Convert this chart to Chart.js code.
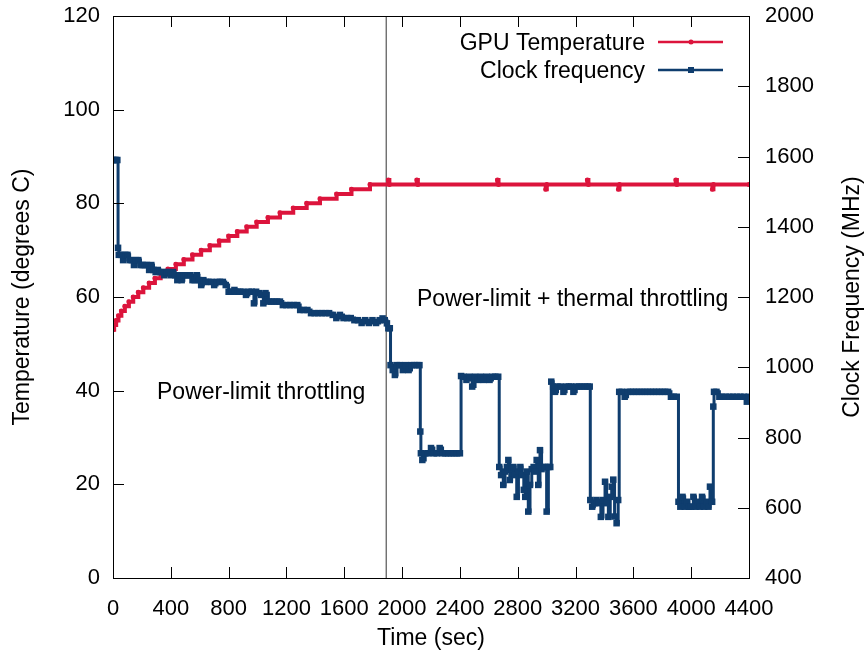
<!DOCTYPE html>
<html>
<head>
<meta charset="utf-8">
<script src="https://cdn.jsdelivr.net/npm/chart.js@4.4.0/dist/chart.umd.min.js"></script>
<style>
  html, body { margin: 0; padding: 0; background: #fff; }
  #chart { display: block; }
</style>
</head>
<body>
<canvas id="chart" width="866" height="664"></canvas>
<script>
// Axis ranges / ticks
const timeTicks = [0, 4400, 400];
const tempTicks = [0, 120, 20];
const clockTicks = [400, 2000, 200];

// Moment where thermal throttling kicks in (sec)
const throttleStart = 1890;

// GPU temperature [sec, degrees C]
const tempReadings = [
  [0, 53], [8, 54], [22, 55], [38, 56], [58, 57], [82, 58], [110, 59], [140, 60],
  [175, 61], [210, 62], [250, 63], [290, 64], [330, 65], [380, 66], [435, 67],
  [490, 68], [550, 69], [610, 70], [670, 71], [735, 72], [800, 73], [860, 74],
  [925, 75], [994, 76], [1072, 77], [1155, 78], [1247, 79], [1340, 80], [1432, 81],
  [1547, 82], [1650, 83], [1778, 84],
  [1905, 85], [1912, 84], [2102, 85], [2109, 84], [2660, 85], [2667, 84],
  [2994, 83], [3001, 84], [3282, 85], [3289, 84], [3497, 83], [3504, 84],
  [3894, 85], [3901, 84], [4147, 83], [4154, 84], [4400, 84]
];

// Clock frequency [sec, MHz]
const clockReadings = [
  [0, 1590], [10, 1590], [20, 1590], [30, 1590],
  [35, 1340], [40, 1320], [55, 1320], [70, 1305], [85, 1320], [100, 1320], [115, 1305],
  [130, 1305], [145, 1291], [160, 1305], [175, 1305], [190, 1291], [205, 1291], [220, 1291],
  [235, 1291], [250, 1277], [265, 1291], [280, 1277], [295, 1271], [310, 1277], [325, 1271],
  [340, 1271], [355, 1262], [370, 1271], [385, 1271], [400, 1262], [415, 1271], [430, 1262],
  [445, 1248], [460, 1262], [475, 1248], [490, 1262], [505, 1262], [520, 1262], [535, 1262],
  [550, 1248], [565, 1248], [580, 1262], [595, 1248], [610, 1234], [625, 1248], [640, 1243],
  [660, 1243], [680, 1243], [700, 1234], [720, 1243], [740, 1243], [760, 1243], [780, 1234],
  [800, 1215], [820, 1215], [840, 1220], [860, 1215], [880, 1215], [900, 1215], [920, 1206],
  [940, 1215], [960, 1215], [975, 1182], [990, 1215], [1010, 1211], [1025, 1206], [1040, 1182],
  [1055, 1211], [1075, 1187], [1095, 1187], [1115, 1187], [1135, 1187], [1155, 1187],
  [1175, 1177], [1200, 1177], [1225, 1177], [1250, 1177], [1275, 1177], [1295, 1163],
  [1320, 1163], [1345, 1163], [1370, 1154], [1395, 1154], [1420, 1154], [1445, 1154],
  [1470, 1154], [1495, 1154], [1520, 1149], [1545, 1140], [1570, 1149], [1595, 1140],
  [1620, 1140], [1645, 1140], [1670, 1134], [1695, 1134], [1720, 1126], [1745, 1134],
  [1770, 1126], [1795, 1134], [1820, 1126], [1845, 1134], [1865, 1139], [1880, 1134],
  [1895, 1125], [1905, 1111], [1915, 1111],
  [1920, 1006], [1935, 992], [1950, 978], [1965, 1006], [1985, 1006], [2005, 992],
  [2025, 1006], [2045, 992], [2065, 1006], [2085, 1006], [2105, 1006], [2120, 1006],
  [2126, 817], [2130, 755], [2140, 736], [2160, 755], [2180, 755], [2200, 770], [2220, 755],
  [2240, 755], [2260, 770], [2280, 755], [2300, 755], [2320, 755], [2340, 755], [2360, 755],
  [2380, 755], [2400, 755],
  [2408, 975], [2425, 973], [2445, 964], [2465, 973], [2485, 945], [2505, 973], [2525, 964],
  [2545, 973], [2565, 964], [2585, 973], [2605, 964], [2625, 973], [2645, 973], [2665, 973],
  [2672, 716], [2685, 693], [2700, 665], [2712, 703], [2725, 716], [2735, 736], [2745, 679],
  [2758, 710], [2770, 716], [2782, 693], [2793, 631], [2805, 703], [2818, 716], [2830, 693],
  [2842, 651], [2852, 631], [2862, 703], [2873, 589], [2885, 665], [2897, 710], [2910, 716],
  [2920, 703], [2931, 736], [2942, 665], [2954, 764], [2965, 710], [2977, 716], [2990, 716],
  [3000, 589], [3012, 716], [3025, 716],
  [3032, 959], [3045, 945], [3058, 930], [3075, 945], [3095, 945], [3116, 930], [3135, 945],
  [3155, 945], [3170, 945], [3185, 930], [3205, 945], [3225, 945], [3245, 945], [3265, 945],
  [3285, 945], [3298, 945],
  [3302, 622], [3315, 603], [3330, 613], [3345, 622], [3360, 613], [3375, 574], [3390, 622],
  [3404, 674], [3415, 613], [3427, 574], [3440, 631], [3450, 660], [3461, 680], [3470, 575],
  [3484, 556], [3495, 622],
  [3502, 930], [3520, 930], [3540, 916], [3560, 930], [3580, 930], [3600, 930], [3620, 930],
  [3640, 930], [3660, 930], [3680, 930], [3700, 930], [3720, 930], [3740, 930], [3760, 930],
  [3780, 930], [3800, 930], [3820, 930], [3840, 930], [3860, 916], [3880, 916], [3900, 916],
  [3912, 617], [3925, 603], [3940, 631], [3955, 603], [3970, 617], [3985, 603], [4000, 603],
  [4015, 631], [4030, 603], [4045, 617], [4060, 603], [4075, 631], [4090, 603], [4105, 617],
  [4120, 603], [4130, 660], [4145, 617],
  [4153, 888], [4158, 930], [4175, 930], [4195, 916], [4215, 916], [4240, 916], [4265, 916],
  [4290, 916], [4315, 916], [4340, 916], [4365, 916], [4385, 902], [4398, 916]
];

const seriesNames = ['GPU Temperature', 'Clock frequency'];
const axisTitles = ['Time (sec)', 'Temperature (degrees C)', 'Clock Frequency (MHz)'];
const regionNotes = ['Power-limit throttling', 'Power-limit + thermal throttling'];

const RED = '#dc143c';
const BLUE = '#0f3d6e';
const FONT = '"Liberation Sans", Arial, Helvetica, sans-serif';

Chart.defaults.font.family = FONT;
Chart.defaults.font.size = 22;
Chart.defaults.color = '#000';

// gnuplot-ish frame: box, inward ticks, titles, notes and legend
const gnuplotFrame = {
  id: 'gnuplotFrame',
  afterDatasetsDraw(chart) {
    const { ctx, chartArea: a, scales } = chart;
    const tick = 11;
    ctx.save();
    ctx.strokeStyle = '#000';
    ctx.lineWidth = 1;
    ctx.beginPath();
    scales.x.ticks.forEach(t => {
      const px = Math.round(scales.x.getPixelForValue(t.value)) + 0.5;
      ctx.moveTo(px, a.bottom); ctx.lineTo(px, a.bottom - tick);
      ctx.moveTo(px, a.top); ctx.lineTo(px, a.top + tick);
    });
    scales.y.ticks.forEach(t => {
      const py = Math.round(scales.y.getPixelForValue(t.value)) + 0.5;
      ctx.moveTo(a.left, py); ctx.lineTo(a.left + tick, py);
    });
    scales.y2.ticks.forEach(t => {
      const py = Math.round(scales.y2.getPixelForValue(t.value)) + 0.5;
      ctx.moveTo(a.right, py); ctx.lineTo(a.right - tick, py);
    });
    ctx.stroke();
    ctx.strokeRect(Math.round(a.left) + 0.5, Math.round(a.top) + 0.5,
      Math.round(a.right - a.left), Math.round(a.bottom - a.top));
    ctx.restore();
  },
  afterDraw(chart) {
    const { ctx, chartArea: a } = chart;
    const midY = (a.top + a.bottom) / 2;
    ctx.save();
    ctx.fillStyle = '#000';
    ctx.font = '23px ' + FONT;
    ctx.textBaseline = 'alphabetic';

    // axis titles
    ctx.textAlign = 'center';
    ctx.fillText(axisTitles[0], (a.left + a.right) / 2, 645);
    ctx.save();
    ctx.translate(29, midY);
    ctx.rotate(-Math.PI / 2);
    ctx.fillText(axisTitles[1], 0, 0);
    ctx.restore();
    ctx.save();
    ctx.translate(859, midY);
    ctx.rotate(-Math.PI / 2);
    ctx.fillText(axisTitles[2], 0, 0);
    ctx.restore();

    // region notes
    ctx.textAlign = 'left';
    ctx.fillText(regionNotes[0], 157, 399);
    ctx.fillText(regionNotes[1], 417, 306);

    // legend
    const rows = [
      { label: seriesNames[0], color: RED, y: 42, marker: 'circle' },
      { label: seriesNames[1], color: BLUE, y: 70, marker: 'rect' }
    ];
    rows.forEach(r => {
      ctx.textAlign = 'right';
      ctx.fillStyle = '#000';
      ctx.fillText(r.label, 645, r.y + 8);
      ctx.strokeStyle = r.color;
      ctx.lineWidth = 2.5;
      ctx.beginPath();
      ctx.moveTo(658, r.y); ctx.lineTo(723, r.y);
      ctx.stroke();
      ctx.fillStyle = r.color;
      if (r.marker === 'circle') {
        ctx.beginPath(); ctx.arc(691, r.y, 2.5, 0, Math.PI * 2); ctx.fill();
      } else {
        ctx.fillRect(688, r.y - 3, 6, 6);
      }
    });
    ctx.restore();
  }
};

document.addEventListener('DOMContentLoaded', () => {
  const ctx = document.getElementById('chart').getContext('2d');

  const toPoints = rows => rows.map(([x, y]) => ({ x, y }));
  const plain = v => String(v);

  new Chart(ctx, {
    type: 'line',
    data: {
      datasets: [
        {
          label: 'throttle',
          data: [{ x: throttleStart, y: tempTicks[0] }, { x: throttleStart, y: tempTicks[1] }],
          yAxisID: 'y',
          borderColor: '#333',
          borderWidth: 1,
          pointRadius: 0,
          order: 3
        },
        {
          label: seriesNames[0],
          data: toPoints(tempReadings),
          yAxisID: 'y',
          stepped: true,
          borderColor: RED,
          borderWidth: 4,
          pointStyle: 'circle',
          pointRadius: 2.5,
          pointBorderWidth: 0,
          pointBackgroundColor: RED,
          order: 2
        },
        {
          label: seriesNames[1],
          data: toPoints(clockReadings),
          yAxisID: 'y2',
          stepped: true,
          borderColor: BLUE,
          borderWidth: 3,
          pointStyle: 'rect',
          pointRadius: 4.6,
          pointBorderWidth: 0,
          pointBackgroundColor: BLUE,
          order: 1
        }
      ]
    },
    options: {
      responsive: false,
      animation: false,
      devicePixelRatio: 1,
      layout: { padding: { top: 16, left: 0, right: 0, bottom: 0 } },
      plugins: {
        legend: { display: false },
        tooltip: { enabled: false }
      },
      scales: {
        x: {
          type: 'linear',
          position: 'bottom',
          min: timeTicks[0],
          max: timeTicks[1],
          grid: { display: false, drawTicks: false },
          border: { display: false },
          ticks: { stepSize: timeTicks[2], autoSkip: false, maxRotation: 0, padding: 18, callback: plain },
          afterFit: s => { s.height = 86; s.paddingLeft = 0; s.paddingRight = 0; }
        },
        y: {
          position: 'left',
          min: tempTicks[0],
          max: tempTicks[1],
          grid: { display: false, drawTicks: false },
          border: { display: false },
          ticks: { stepSize: tempTicks[2], padding: 13, callback: plain },
          afterFit: s => { s.width = 113; s.paddingTop = 0; s.paddingBottom = 0; }
        },
        y2: {
          position: 'right',
          min: clockTicks[0],
          max: clockTicks[1],
          grid: { display: false, drawTicks: false },
          border: { display: false },
          ticks: { stepSize: clockTicks[2], padding: 16, callback: plain },
          afterFit: s => { s.width = 117; s.paddingTop = 0; s.paddingBottom = 0; }
        }
      }
    },
    plugins: [gnuplotFrame]
  });
});
</script>
</body>
</html>
